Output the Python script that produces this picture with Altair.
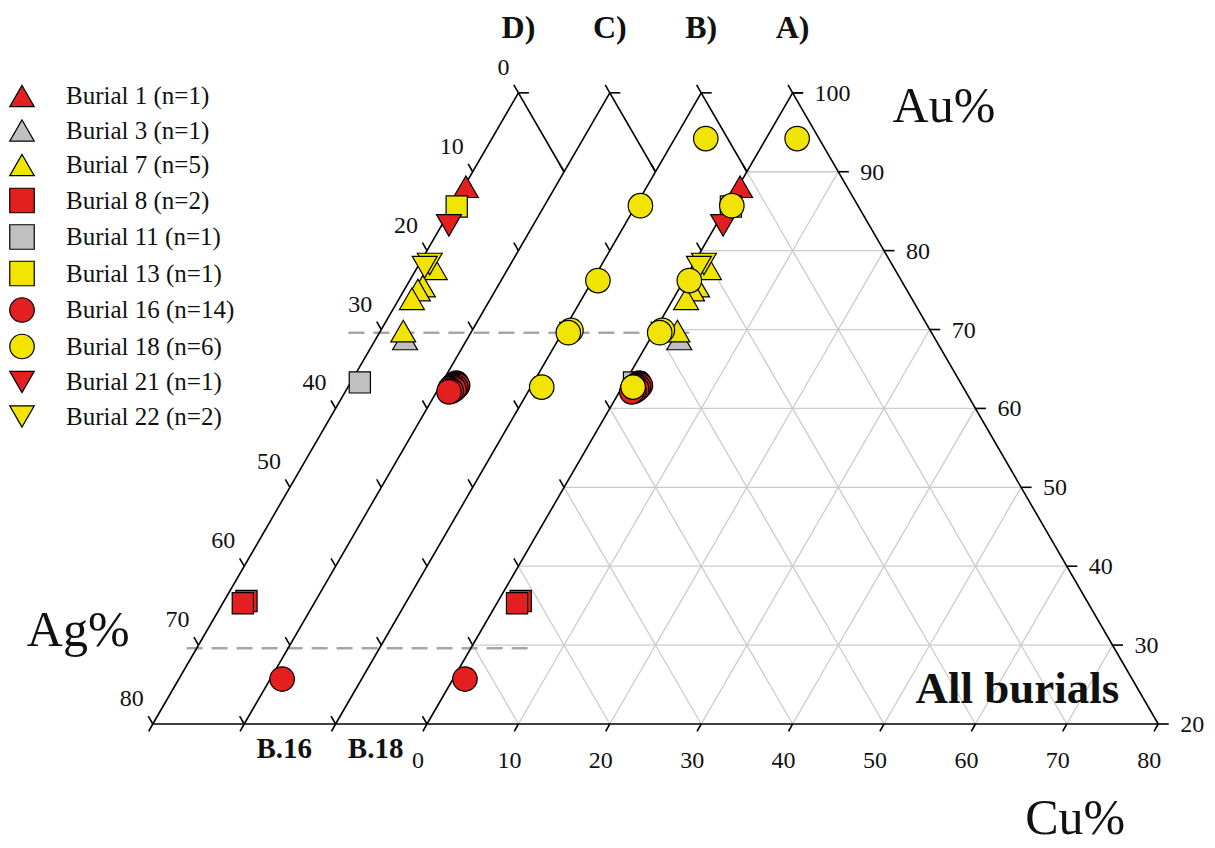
import math
import altair as alt
import pandas as pd

SQ = math.sqrt(3) / 2

# ---------------- data ----------------
burials = ["Burial 1 (n=1)", "Burial 3 (n=1)", "Burial 7 (n=5)", "Burial 8 (n=2)",
           "Burial 11 (n=1)", "Burial 13 (n=1)", "Burial 16 (n=14)", "Burial 18 (n=6)",
           "Burial 21 (n=1)", "Burial 22 (n=2)"]
RED, GREY, YEL = "#e3201f", "#c0c0c0", "#f0e400"
fills = [RED, GREY, YEL, RED, GREY, YEL, RED, YEL, RED, YEL]
outlines = ["#000000"] * 10
shapes = ["triangle-up", "triangle-up", "triangle-up", "square", "square", "square",
          "circle", "circle", "triangle-down", "triangle-down"]
marker_size = [620, 620, 620, 450, 450, 450, 600, 600, 620, 620]
draw_rank = [3, 1, 2, 4, 5, 6, 9, 10, 7, 8]
# offset panel: 1 = B) (B.18), 2 = C) (B.16), 3 = D) (other burials); all shown in A)
panel_of = [3, 3, 3, 3, 3, 3, 2, 1, 3, 3]

au_b1 = [88.1]
cu_b1 = [0.2]
au_b3 = [68.8]
cu_b3 = [3.2]
au_b7 = [77.7, 75.5, 75.0, 73.9, 69.8]
cu_b7 = [2.0, 1.8, 1.5, 1.4, 2.5]
au_b8 = [35.6, 35.3]
cu_b8 = [2.45, 2.2]
au_b11 = [63.3]
cu_b11 = [1.0]
au_b13 = [85.6]
cu_b13 = [0.45]
au_b16 = [63.2, 63.1, 63.0, 62.9, 62.9, 62.8, 62.7, 62.6, 62.5, 62.4, 62.3, 62.2, 62.1, 25.7]
cu_b16 = [1.6, 1.7, 1.65, 1.9, 1.4, 1.5, 1.8, 1.6, 1.3, 1.75, 1.45, 1.55, 1.35, 1.3]
au_b18 = [94.2, 85.7, 76.2, 69.9, 69.6, 62.7]
cu_b18 = [3.4, 0.5, 0.6, 0.8, 0.66, 1.2]
au_b21 = [83.2]
cu_b21 = [0.8]
au_b22 = [78.3, 77.9]
cu_b22 = [1.15, 0.8]

au_lists = [au_b1, au_b3, au_b7, au_b8, au_b11, au_b13, au_b16, au_b18, au_b21, au_b22]
cu_lists = [cu_b1, cu_b3, cu_b7, cu_b8, cu_b11, cu_b13, cu_b16, cu_b18, cu_b21, cu_b22]

panel_names = ["A)", "B)", "C)", "D)"]
panel_bottom_labels = {1: "B.18", 2: "B.16"}
tick_steps = [20, 30, 40, 50, 60, 70, 80, 90, 100]
cu_tick_labels = [0, 10, 20, 30, 40, 50, 60, 70, 80]
ag_tick_labels = [0, 10, 20, 30, 40, 50, 60, 70, 80]
# dashed reference lines: Au level, Cu range (in panel A units)
dash_au = [69.6, 29.6]
dash_cu_from = [-33.4, -31.1]
dash_cu_to = [3.9, 6.2]

# ---------------- geometry helpers (ternary -> plane) ----------------
def tx(au, cu, k=0):
    return cu + (au - 20) / 2 - 10 * k

def ty(au):
    return (au - 20) * SQ

X_PX, Y_PX = 9.14, 9.11   # pixels per percent unit
X0, Y0 = 427, 724         # pixel of (Au=20, Cu=0) in panel A
W, H = 1210, 844
xs = alt.Scale(domain=[-X0 / X_PX, (W - X0) / X_PX], nice=False, zero=False)
ys = alt.Scale(domain=[(Y0 - H) / Y_PX, Y0 / Y_PX], nice=False, zero=False)

def X(f="x"):
    return alt.X(f"{f}:Q", scale=xs, axis=None)

def Y(f="y"):
    return alt.Y(f"{f}:Q", scale=ys, axis=None)

def seg_df(segs):
    return pd.DataFrame(segs, columns=["x", "y", "x2", "y2"])

# grid inside panel A
grid = []
for v in range(30, 100, 10):  # Au constant
    grid.append((tx(v, 0), ty(v), tx(v, 100 - v), ty(v)))
for c in range(10, 80, 10):  # Cu constant
    grid.append((tx(20, c), ty(20), tx(100 - c, c), ty(100 - c)))
for ag in range(10, 80, 10):  # Ag constant
    grid.append((tx(20, 80 - ag), ty(20), tx(100 - ag, 0), ty(100 - ag)))

# black frame
frame = []
for k in range(4):
    frame.append((tx(20, 0, k), ty(20), tx(100, 0, k), ty(100)))
frame.append((tx(100, 0), ty(100), tx(20, 80), ty(20)))
for k in range(1, 4):
    frame.append((tx(100, 0, k), ty(100), tx(90, 10, k), ty(90)))
frame.append((tx(20, 0, 3), ty(20), tx(20, 80), ty(20)))

# ticks
TL = 1.0
ticks = []
for k in range(4):
    for v in tick_steps:  # Ag ticks on left edges (up-left)
        x0, y0 = tx(v, 0, k), ty(v)
        ticks.append((x0, y0, x0 - 0.5 * TL, y0 + SQ * TL * 9.14 / 9.11))
    ticks.append((tx(100, 0, k), ty(100), tx(100, 0, k) + 1.15, ty(100)))
for c in range(-30, 90, 10):  # Cu ticks (down-left)
    x0, y0 = tx(20, c), ty(20)
    ticks.append((x0, y0, x0 - 0.45 * TL, y0 - 0.8 * TL))
for v in tick_steps:  # Au ticks on right edge (right)
    x0, y0 = tx(v, 100 - v), ty(v)
    ticks.append((x0, y0, x0 + 1.15, y0))

dashes = [(tx(a, c1), ty(a), tx(a, c2), ty(a)) for a, c1, c2 in zip(dash_au, dash_cu_from, dash_cu_to)]

# points
rows = []
for i, b in enumerate(burials):
    for j, (au, cu) in enumerate(zip(au_lists[i], cu_lists[i])):
        for k in (0, panel_of[i]):
            rows.append(dict(burial=b, x=tx(au, cu, k), y=ty(au), sz=marker_size[i],
                             ord=draw_rank[i] * 100 + j))
pts = pd.DataFrame(rows)

# text anchors
cu_lab = pd.DataFrame(dict(x=[tx(20, c) for c in cu_tick_labels], y=[ty(20)] * 9,
                           t=[str(c) for c in cu_tick_labels]))
au_lab = pd.DataFrame(dict(x=[tx(v, 100 - v) for v in tick_steps], y=[ty(v) for v in tick_steps],
                           t=[str(v) for v in tick_steps]))
ag_lab = pd.DataFrame(dict(x=[tx(100 - a, 0, 3) for a in ag_tick_labels],
                           y=[ty(100 - a) for a in ag_tick_labels], t=[str(a) for a in ag_tick_labels]))
pan_lab = pd.DataFrame(dict(x=[tx(100, 0, k) for k in range(4)], y=[ty(100)] * 4, t=panel_names))
bot_lab = pd.DataFrame(dict(x=[tx(20, 0, k) for k in panel_bottom_labels],
                            y=[ty(20)] * len(panel_bottom_labels), t=list(panel_bottom_labels.values())))

FONT = "Liberation Serif"

def rules(df, color, width, dash=None):
    kw = dict(color=color, strokeWidth=width)
    if dash:
        kw["strokeDash"] = dash
    return alt.Chart(df).mark_rule(**kw).encode(x=X(), y=Y(), x2="x2:Q", y2="y2:Q")

def texts(df, size, align="center", baseline="middle", dx=0, dy=0, weight="normal"):
    return alt.Chart(df).mark_text(font=FONT, fontSize=size, align=align, baseline=baseline,
                                   dx=dx, dy=dy, fontWeight=weight, color="#111111").encode(
        x=X(), y=Y(), text="t:N")

def one(x, y, t):
    return pd.DataFrame(dict(x=[x], y=[y], t=[t]))

legend = alt.Legend(title=None, orient="none", legendX=9, legendY=83, symbolSize=600,
                    symbolStrokeColor="black", symbolStrokeWidth=1.2, labelFont=FONT,
                    labelFontSize=25, labelColor="#111111", rowPadding=6.5, labelOffset=31,
                    padding=0, labelLimit=400)

points = alt.Chart(pts).mark_point(filled=True, strokeWidth=1.2, opacity=1).encode(
    x=X(), y=Y(),
    fill=alt.Fill("burial:N", scale=alt.Scale(domain=burials, range=fills), legend=legend),
    shape=alt.Shape("burial:N", scale=alt.Scale(domain=burials, range=shapes), legend=legend),
    stroke=alt.Stroke("burial:N", scale=alt.Scale(domain=burials, range=outlines), legend=legend),
    size=alt.Size("sz:Q", scale=None),
    order=alt.Order("ord:Q"),
)

chart = alt.layer(
    rules(seg_df(grid), "#cbcbcb", 1.3),
    rules(seg_df(dashes), "#a6a6a6", 2.5, [16, 9]),
    rules(seg_df(frame), "#000000", 1.6),
    rules(seg_df(ticks), "#000000", 1.6),
    points,
    texts(cu_lab, 24, dx=-9, dy=37),
    texts(au_lab, 24, align="left", dx=22, dy=1),
    texts(ag_lab, 24, align="right", dx=-9, dy=-25),
    texts(pan_lab, 32, dy=-65, weight="bold"),
    texts(bot_lab, 29, dx=40, dy=25, weight="bold"),
    texts(one(tx(100, 0), ty(100), "Au%"), 50, align="left", baseline="alphabetic", dx=100, dy=29),
    texts(one(tx(20, 0, 3), ty(20), "Ag%"), 50, align="left", baseline="alphabetic", dx=-126, dy=-78),
    texts(one(tx(20, 80), ty(20), "Cu%"), 50, align="right", baseline="alphabetic", dx=-33, dy=110),
    texts(one(tx(20, 80), ty(20), "All burials"), 45, align="right", baseline="alphabetic",
          dx=-39, dy=-21, weight="bold"),
).properties(
    width=W, height=H, padding=0, autosize="none", background="white"
).configure_view(stroke=None)

chart.save("out.html", embed_options={"renderer": "svg", "actions": False})
